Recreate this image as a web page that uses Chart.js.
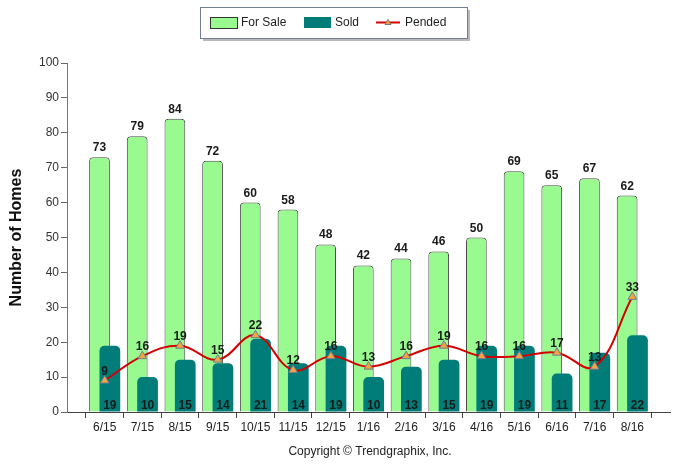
<!DOCTYPE html>
<html>
<head>
<meta charset="utf-8">
<script src="https://cdn.jsdelivr.net/npm/chart.js@4.4.1/dist/chart.umd.min.js"></script>
<style>
  html, body { margin: 0; padding: 0; background: #fff; }
  canvas { display: block; }
</style>
</head>
<body>
<canvas id="homesChart" width="690" height="465"></canvas>
<script>
// Datos
const meses = ["6/15", "7/15", "8/15", "9/15", "10/15", "11/15", "12/15", "1/16", "2/16", "3/16", "4/16", "5/16", "6/16", "7/16", "8/16"];
const enVenta = [73, 79, 84, 72, 60, 58, 48, 42, 44, 46, 50, 69, 65, 67, 62];
const vendidas = [19, 10, 15, 14, 21, 14, 19, 10, 13, 15, 19, 19, 11, 17, 22];
const pendientes = [9, 16, 19, 15, 22, 12, 16, 13, 16, 19, 16, 16, 17, 13, 33];
const yTicks = [0, 10, 20, 30, 40, 50, 60, 70, 80, 90, 100];

// ranura vacía al inicio y al final (como en el original)
const pad = arr => [null, ...arr, null];

const FONT = "'Liberation Sans', Arial, sans-serif";
const C_VENTA = "#99fb8f";
const C_VENDIDA = "#007d78";
const C_PEND = "#d40000";
const C_TRI = "#f5a540";

// "For Sale" va a la izquierda pero se dibuja debajo de "Sold"
const ordenPlugin = {
  id: "orden",
  beforeDatasetDraw(chart, args) {
    const label = chart.data.datasets[args.index].label;
    if (label === "For Sale") return false;
    if (label === "Sold") {
      const idx = chart.data.datasets.findIndex(d => d.label === "For Sale");
      chart.getDatasetMeta(idx).controller.draw();
    }
  }
};

// Etiquetas de valores + leyenda + copyright
const extrasPlugin = {
  id: "extras",
  afterDatasetsDraw(chart) {
    const ctx = chart.ctx;
    const area = chart.chartArea;
    ctx.save();
    ctx.font = "bold 12px " + FONT;
    ctx.fillStyle = "#1a1a1a";
    ctx.textAlign = "center";
    ctx.textBaseline = "alphabetic";
    chart.data.datasets.forEach((ds, di) => {
      const meta = chart.getDatasetMeta(di);
      meta.data.forEach((el, i) => {
        const v = ds.data[i];
        if (v === null || v === undefined) return;
        if (ds.label === "Sold") ctx.fillText(v, el.x, area.bottom - 3);
        else ctx.fillText(v, el.x, el.y - 6);
      });
    });
    ctx.restore();
  },
  afterDraw(chart) {
    const ctx = chart.ctx;
    ctx.save();
    // caja de la leyenda
    const bx = 200, by = 7, bw = 267, bh = 31;
    ctx.fillStyle = "#b9b9b9";
    ctx.fillRect(bx + 3, by + 3, bw, bh);
    ctx.fillStyle = "#fff";
    ctx.fillRect(bx, by, bw, bh);
    ctx.strokeStyle = "#6f7f95";
    ctx.lineWidth = 1;
    ctx.strokeRect(bx + 0.5, by + 0.5, bw, bh);

    ctx.font = "12px " + FONT;
    ctx.textBaseline = "middle";
    ctx.textAlign = "left";
    const cy = 22.5;
    // For Sale
    ctx.fillStyle = C_VENTA;
    ctx.fillRect(210, 17, 27, 11);
    ctx.strokeStyle = "#333";
    ctx.strokeRect(210.5, 17.5, 27, 11);
    ctx.fillStyle = "#222";
    ctx.fillText("For Sale", 241, cy);
    // Sold
    ctx.fillStyle = C_VENDIDA;
    ctx.fillRect(304, 17, 27, 11);
    ctx.fillStyle = "#222";
    ctx.fillText("Sold", 335, cy);
    // Pended
    ctx.strokeStyle = C_PEND;
    ctx.lineWidth = 2;
    ctx.beginPath();
    ctx.moveTo(376, cy);
    ctx.lineTo(400, cy);
    ctx.stroke();
    ctx.fillStyle = C_TRI;
    ctx.strokeStyle = "#7a7a7a";
    ctx.lineWidth = 1;
    ctx.beginPath();
    ctx.moveTo(388, cy - 3);
    ctx.lineTo(391, cy + 2);
    ctx.lineTo(385, cy + 2);
    ctx.closePath();
    ctx.fill();
    ctx.stroke();
    ctx.fillStyle = "#222";
    ctx.fillText("Pended", 405, cy);

    // copyright
    ctx.textAlign = "center";
    ctx.font = "12px " + FONT;
    ctx.fillText("Copyright \u00A9 Trendgraphix, Inc.", 370, 452);
    ctx.restore();
  }
};

const ctx = document.getElementById("homesChart").getContext("2d");
new Chart(ctx, {
  type: "bar",
  data: {
    labels: ["", ...meses, ""],
    datasets: [
      {
        type: "line",
        label: "Pended",
        data: pad(pendientes),
        borderColor: C_PEND,
        borderWidth: 2,
        tension: 0.4,
        pointStyle: "triangle",
        pointRadius: 5,
        pointBackgroundColor: C_TRI,
        pointBorderColor: "#6d7b95",
        pointBorderWidth: 1,
        order: 0
      },
      {
        label: "For Sale",
        data: pad(enVenta),
        backgroundColor: C_VENTA,
        borderColor: "#4a4a4a",
        borderWidth: 1,
        borderRadius: { topLeft: 4, topRight: 4, bottomLeft: 0, bottomRight: 0 },
        borderSkipped: "bottom",
        categoryPercentage: 0.55,
        barPercentage: 2.0,
        order: 1
      },
      {
        label: "Sold",
        data: pad(vendidas),
        backgroundColor: C_VENDIDA,
        borderWidth: 0,
        borderRadius: { topLeft: 5, topRight: 5, bottomLeft: 0, bottomRight: 0 },
        borderSkipped: "bottom",
        categoryPercentage: 0.55,
        barPercentage: 2.0,
        order: 2
      }
    ]
  },
  options: {
    responsive: false,
    animation: false,
    layout: { padding: { top: 63, right: 20, left: 0, bottom: 0 } },
    plugins: {
      legend: { display: false },
      tooltip: { enabled: false }
    },
    scales: {
      x: {
        offset: false,
        grid: { display: true, drawOnChartArea: false, drawTicks: true, tickLength: 6, color: "#444" },
        border: { color: "#444" },
        ticks: {
          autoSkip: false,
          maxRotation: 0,
          padding: 2,
          color: "#222",
          font: { family: FONT, size: 12 }
        },
        afterFit(scale) { scale.height = 53; }
      },
      y: {
        min: 0,
        max: 100,
        grid: { display: true, drawOnChartArea: false, drawTicks: true, tickLength: 6, color: "#666" },
        border: { color: "#777" },
        afterBuildTicks(scale) { scale.ticks = yTicks.map(v => ({ value: v })); },
        ticks: {
          padding: 2,
          color: "#333",
          font: { family: FONT, size: 12 }
        },
        title: {
          display: true,
          text: "Number of Homes",
          color: "#111",
          font: { family: FONT, size: 16, weight: "bold" },
          padding: { top: 7, bottom: 4 }
        },
        afterFit(scale) { scale.width = 67; }
      }
    }
  },
  plugins: [ordenPlugin, extrasPlugin]
});
</script>
</body>
</html>
